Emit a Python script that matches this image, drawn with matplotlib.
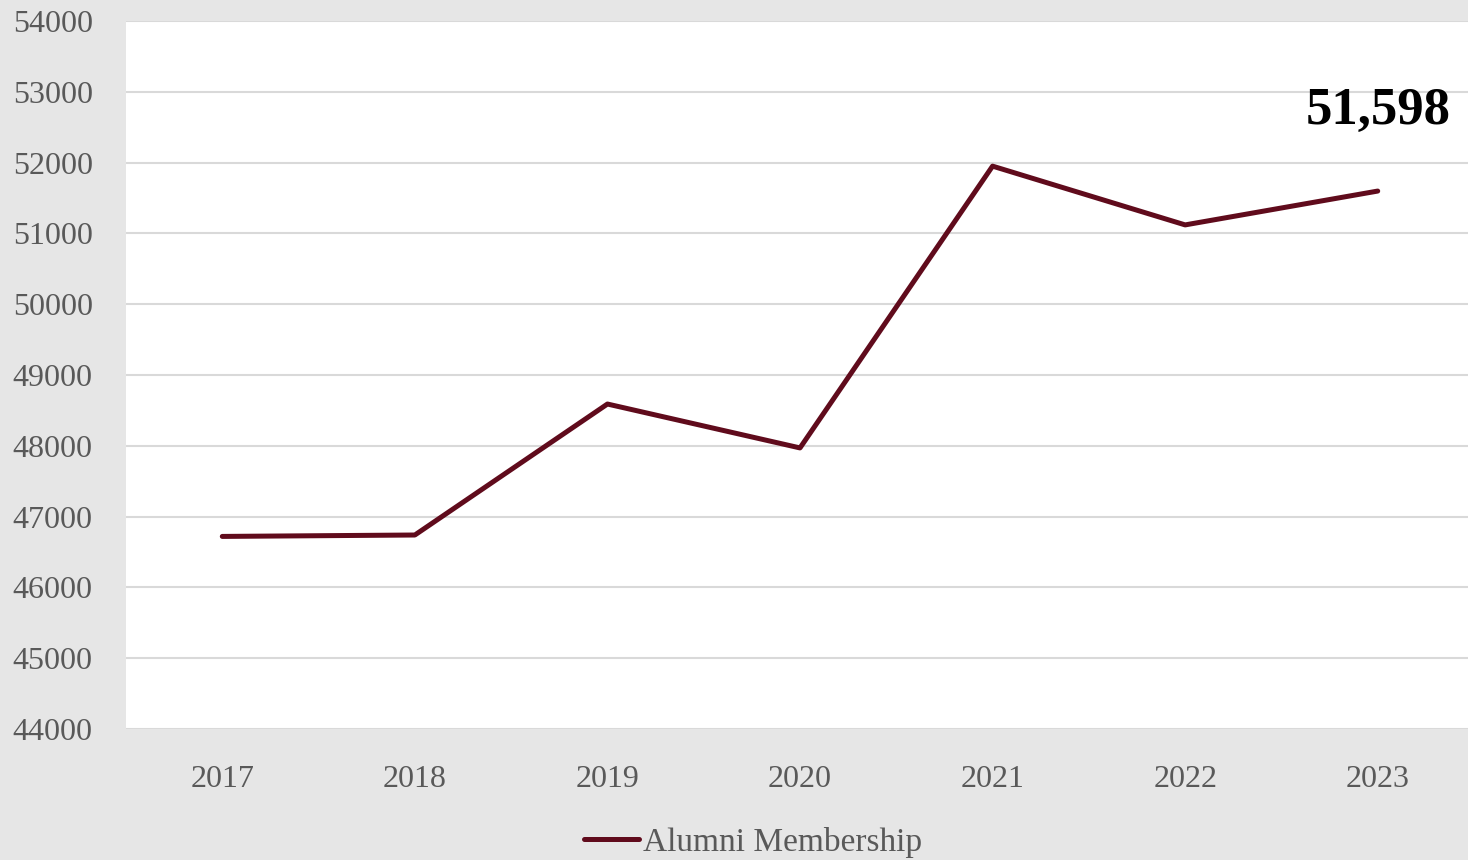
import matplotlib.pyplot as plt

years = ["2017", "2018", "2019", "2020", "2021", "2022", "2023"]
members = [46720, 46740, 48590, 47970, 51950, 51120, 51598]
yticks = list(range(44000, 54001, 1000))

plt.rcParams["font.family"] = ["Liberation Serif", "DejaVu Serif"]

fig = plt.figure(figsize=(14.68, 8.6), dpi=100, facecolor="#e6e6e6")
ax = fig.add_axes([126 / 1468, 1 - 729 / 860, 1348 / 1468, 708 / 860])
ax.set_facecolor("white")

x = list(range(len(years)))
ax.plot(x, members, color="#600b1c", linewidth=3.6, solid_capstyle="round",
        label="Alumni Membership", zorder=3)

ax.set_xlim(-0.5, len(years) - 0.5)
ax.set_ylim(44000, 54000)
ax.set_yticks(yticks)
ax.set_xticks(x)
ax.set_xticklabels(years)
ax.grid(axis="y", color="#d9d9d9", linewidth=1.5)
ax.set_axisbelow(True)
for s in ax.spines.values():
    s.set_visible(False)
ax.tick_params(axis="both", length=0, labelsize=23, labelcolor="#595959")
ax.tick_params(axis="y", pad=24)
ax.tick_params(axis="x", pad=26)

ax.annotate(f"{members[-1]:,}", xy=(x[-1], members[-1]), xytext=(0, 58),
            textcoords="offset points", ha="center", va="center",
            fontsize=38, fontweight="bold", color="black")

leg = fig.legend(loc="center", bbox_to_anchor=(753 / 1468, 1 - 842 / 860),
                 frameon=False, fontsize=24, handlelength=1.65,
                 handletextpad=0.1, borderaxespad=0)
for t in leg.get_texts():
    t.set_color("#595959")

fig.savefig("out.png", dpi=100, facecolor=fig.get_facecolor())
